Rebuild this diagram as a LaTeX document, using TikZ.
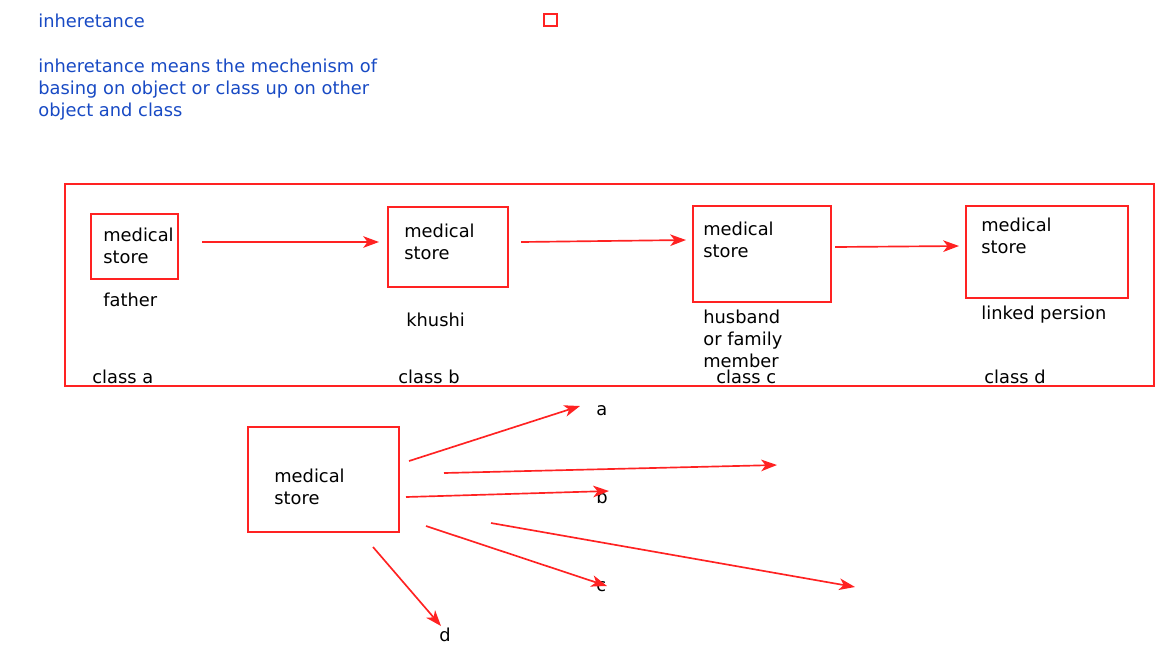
\documentclass[tikz,border=0pt]{standalone}
\usepackage{fontspec}
\setmainfont{DejaVu Sans}
\usetikzlibrary{arrows.meta, fit}
\definecolor{storered}{RGB}{255,34,34}
\definecolor{noteblue}{RGB}{24,74,196}
\tikzset{
	storebox/.style={draw=storered, line width=1.1pt, inner sep=0pt},
	lbl/.style={inner sep=0pt, anchor=base west, align=left, font=\fontsize{10.15}{12.5}\selectfont},
	arr/.style={draw=storered, line width=0.95pt, -{Stealth[length=9pt, width=6.6pt, inset=2.5pt]}}
}
\begin{document}
\begin{tikzpicture}[x=0.02cm, y=-0.02cm]
	\useasboundingbox (0,0) rectangle (1168,657);
	% nota (base = ultima linea)
	\node[lbl, text=noteblue] (title) at (38,27.5) {inheretance};
	\node[storebox, fit={(544,14) (557,26)}] (mark) {};
	\node[lbl, text=noteblue] (note) at (38,116.5) {inheretance means the mechenism of\\basing on object or class up on other\\object and class};
	% cadena de clases
	\node[storebox, fit={(65,184) (1154,386)}] (chain) {};
	\node[storebox, fit={(91,214) (178,279)}] (boxa) {};
	\node[storebox, fit={(388,207) (508,287)}] (boxb) {};
	\node[storebox, fit={(693,206) (831,302)}] (boxc) {};
	\node[storebox, fit={(966,206) (1128,298)}] (boxd) {};
	\node[lbl] (texta) at (103,263) {medical\\store};
	\node[lbl] (textb) at (404,259) {medical\\store};
	\node[lbl] (textc) at (703,257) {medical\\store};
	\node[lbl] (textd) at (981,253) {medical\\store};
	\node[lbl] (father) at (103,306) {father};
	\node[lbl] (khushi) at (406,326) {khushi};
	\node[lbl] (husband) at (703,367) {husband\\or family\\member};
	\node[lbl] (linked) at (981,319) {linked persion};
	\foreach \x/\c in {92/a,398/b,716/c,984/d} \node[lbl] (class\c) at (\x,383) {class \c};
	\coordinate (ab1) at (202,242); \coordinate (ab2) at (379,242);
	\coordinate (bc1) at (521,242); \coordinate (bc2) at (686,240);
	\coordinate (cd1) at (835,247); \coordinate (cd2) at (959,246);
	\draw[arr] (ab1) -- (ab2);
	\draw[arr] (bc1) -- (bc2);
	\draw[arr] (cd1) -- (cd2);
	% abanico
	\node[storebox, fit={(248,427) (399,532)}] (boxe) {};
	\node[lbl] (texte) at (274,504) {medical\\store};
	\node[lbl] (la) at (596,415) {a};
	\node[lbl] (lb) at (596,503) {b};
	\node[lbl] (lc) at (596,591) {c};
	\node[lbl] (ld) at (439,641) {d};
	\coordinate (s1) at (409,461); \coordinate (e1) at (580,406);
	\coordinate (s2) at (444,473); \coordinate (e2) at (777,465);
	\coordinate (s3) at (406,497); \coordinate (e3) at (609,491);
	\coordinate (s4) at (491,523); \coordinate (e4) at (855,587);
	\coordinate (s5) at (426,526); \coordinate (e5) at (607,586);
	\coordinate (s6) at (373,547); \coordinate (e6) at (441,626);
	\foreach \i in {1,...,6} \draw[arr] (s\i) -- (e\i);
\end{tikzpicture}
\end{document}
